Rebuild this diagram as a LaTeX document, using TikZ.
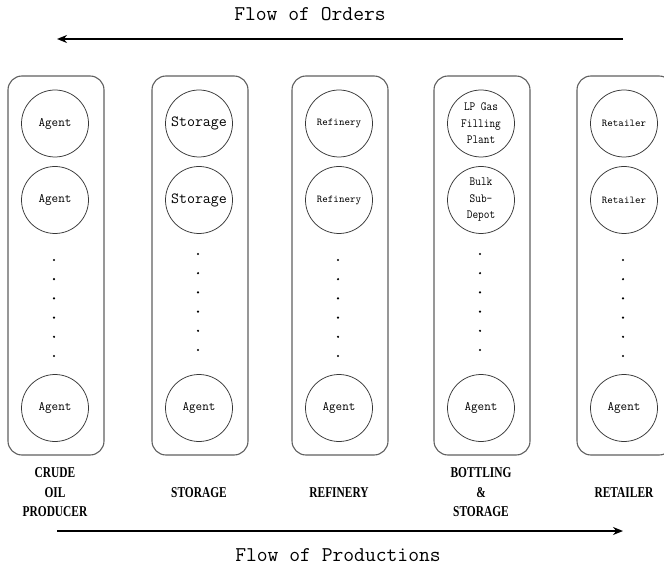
\documentclass[tikz,border=0pt]{standalone}
\usepackage{fontspec}
\setmainfont{Liberation Serif}
\newfontfamily\slimmono{Latin Modern Mono}
\newfontfamily\narrowmono[FakeStretch=0.88]{Latin Modern Mono}
\newfontfamily\slimserif[FakeStretch=0.76]{Liberation Serif}
\usetikzlibrary{arrows.meta,positioning}
\definecolor{EdgeGray}{RGB}{95,95,95}
\definecolor{RingGray}{RGB}{55,55,55}
\tikzset{
  column/.style={draw=EdgeGray,line width=1.1pt,rounded corners=14pt,
    minimum width=96pt,minimum height=379pt,inner sep=0pt},
  agent/.style={circle,draw=RingGray,line width=0.75pt,minimum size=67pt,
    inner sep=0pt,align=center,font=\slimmono\fontsize{12.8}{15}\selectfont},
  storebig/.style={agent,font=\slimmono\fontsize{15.5}{18}\selectfont},
  plantbox/.style={agent,font=\narrowmono\fontsize{12.5}{16.5}\selectfont},
  smallagent/.style={agent,font=\slimmono\fontsize{10.5}{12}\selectfont},
  stagelabel/.style={align=center,font=\slimserif\bfseries\fontsize{15}{19.5}\selectfont},
  flowtitle/.style={font=\slimmono\fontsize{21}{25}\selectfont},
  flow/.style={-{Stealth[length=10pt,width=8pt]},line width=1.9pt}
}
\begin{document}
\begin{tikzpicture}[x=1pt,y=-1pt]
  \useasboundingbox (0,0) rectangle (664,569);
  % columns with their agents
  \foreach \c/\x/\st/\first/\second/\d/\lab in {
      1/55/agent/{Agent}/{Agent}/260/{CRUDE\\OIL\\PRODUCER},
      2/199/storebig/{Storage}/{Storage}/254/{STORAGE},
      3/339/smallagent/{Refinery}/{Refinery}/260/{REFINERY},
      4/481/plantbox/{LP Gas\\Filling\\Plant}/{Bulk\\Sub-\\Depot}/254/{BOTTLING\\\&\\STORAGE},
      5/624/smallagent/{Retailer}/{Retailer}/260/{RETAILER}}{
    \node[column] (col\c) at (\x+1,265.5) {};
    \node[\st] (top\c) at (\x,123.5) {\first};
    \node[\st] (mid\c) at (\x,200) {\second};
    \node[agent] (low\c) at (\x,408) {Agent};
    \foreach \k in {0,...,5}
      \fill (\x-1,\d+\k*19.2) circle (1.2pt);
    \node[stagelabel] (lab\c) at (\x,492.5) {\lab};
  }
  % flows
  \coordinate (ordStart) at (623,39);
  \coordinate (ordEnd) at (57,39);
  \coordinate (prodStart) at (57,531);
  \coordinate (prodEnd) at (623,531);
  \draw[flow] (ordStart) -- (ordEnd);
  \draw[flow] (prodStart) -- (prodEnd);
  \node[flowtitle] (orders) at (310,14) {Flow of Orders};
  \node[flowtitle] (prods) at (338,555) {Flow of Productions};
\end{tikzpicture}
\end{document}
